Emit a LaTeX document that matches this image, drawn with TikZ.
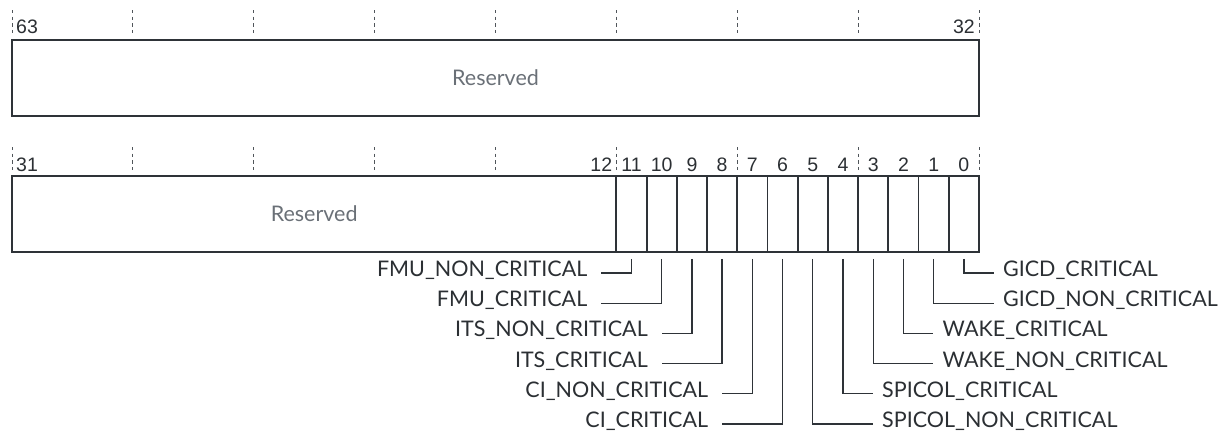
\documentclass[tikz,border=0pt]{standalone}
\usepackage{fontspec}
\setmainfont{Lato}
\newfontfamily\numfont{Liberation Sans}
\definecolor{boxc}{HTML}{2E3338}
\definecolor{labc}{HTML}{2B2F33}
\definecolor{resc}{HTML}{6A7077}
\definecolor{tickc}{HTML}{50555A}
\begin{document}
\begin{tikzpicture}[x=1pt,y=-1pt,
  regbox/.style={draw=boxc,line width=1.8pt,inner sep=0pt,minimum height=76pt,text=resc,font=\fontsize{21.5}{24}\selectfont},
  cell/.style={draw=boxc,line width=1.8pt,inner sep=0pt,minimum height=76pt,minimum width=30.21875pt},
  num/.style={text=labc,inner sep=0pt,font=\numfont\fontsize{19.5}{22}\selectfont},
  tickline/.style={draw=tickc,line width=0.9pt,dash pattern=on 3.3pt off 3.3pt},
  lab/.style={text=labc,inner sep=0pt,text height=0.7165em,text depth=0pt,font=\fontsize{21.5}{24}\selectfont},
  leader/.style={draw=boxc,line width=1.3pt}]
\useasboundingbox (0,0) rectangle (1226,439);
\pgfmathsetmacro{\bw}{30.21875}
% ticks
\foreach \k in {0,...,8}{
  \draw[tickline] ({12+4*\bw*\k},10) -- ({12+4*\bw*\k},36);
  \draw[tickline] ({12+4*\bw*\k},147) -- ({12+4*\bw*\k},173);
}
% top register
\node[regbox,minimum width=967pt] (top) at (495.5,78) {Reserved};
\node[num,anchor=base west] (n63) at (16,33) {63};
\node[num,anchor=base east] (n32) at (975,33) {32};
% bottom register
\node[regbox,minimum width={20*\bw*1pt}] (res) at ({12+10*\bw},214) {Reserved};
\node[num,anchor=base west] (n31) at (16,171) {31};
\node[num,anchor=base east] (n12) at ({12+20*\bw-4},171) {12};
\foreach \b in {0,...,11}{
  \node[cell] (b\b) at ({979-(\b+0.5)*\bw},214) {};
  \node[num,anchor=base] (n\b) at ({979-(\b+0.5)*\bw},171) {\b};
}
% left labels
\foreach \b/\p/\k/\t in {11/11/0/FMU\_NON\_CRITICAL,10/11/1/FMU\_CRITICAL,9/9/2/ITS\_NON\_CRITICAL,8/9/3/ITS\_CRITICAL,7/7/4/CI\_NON\_CRITICAL,6/7/5/CI\_CRITICAL}{
  \node[lab,anchor=east] (l\b) at ({979-(\p+0.5)*\bw-30-14},{273+30.2*\k}) {\t};
  \draw[leader] ([yshift=-6pt]b\b.south) |- ([xshift=14pt]l\b.east);
}
% right labels
\foreach \b/\p/\k/\t in {0/0/0/GICD\_CRITICAL,1/0/1/GICD\_NON\_CRITICAL,2/2/2/WAKE\_CRITICAL,3/2/3/WAKE\_NON\_CRITICAL,4/4/4/SPICOL\_CRITICAL,5/4/5/SPICOL\_NON\_CRITICAL}{
  \node[lab,anchor=west] (r\b) at ({979-(\p+0.5)*\bw+30+9},{273+30.2*\k}) {\t};
  \draw[leader] ([yshift=-6pt]b\b.south) |- ([xshift=-9pt]r\b.west);
}
\end{tikzpicture}
\end{document}
